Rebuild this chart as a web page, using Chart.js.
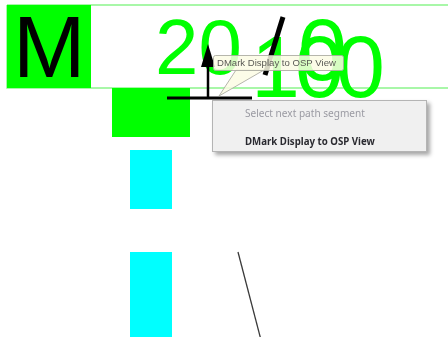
<!DOCTYPE html>
<html>
<head>
<meta charset="utf-8">
<script src="https://cdn.jsdelivr.net/npm/chart.js@4"></script>
<style>
  html, body { margin: 0; padding: 0; background: #fff; }
  #wrap { width: 448px; height: 337px; }
</style>
</head>
<body>
<div id="wrap"><canvas id="grafica"></canvas></div>
<script>
// Todo va en unidades de los ejes (x 0..448, y 0..337 hacia abajo)
const marcoX = [7, 470, 470, 7, 7];
const marcoY = [5, 5, 88, 88, 5];
const cuadroMX = [7, 91, 91, 7];
const cuadroMY = [5, 5, 88, 88];
const bloqueVerdeX = [112, 190, 190, 112];
const bloqueVerdeY = [88, 88, 137, 137];
const cian1X = [130, 172, 172, 130];
const cian1Y = [150, 150, 209, 209];
const cian2X = [130, 172, 172, 130];
const cian2Y = [252, 252, 345, 345];
const barraX = [283, 265];
const barraY = [17, 75];
const rayaX = [167, 252];
const rayaY = [98, 98];
const flechaX = [208, 208];
const flechaY = [98, 62];
const puntaX = [208, 201, 215];
const puntaY = [44, 67, 67];
const diagonalX = [238, 261];
const diagonalY = [252, 340];

// Textos grandes
const letraM = 'M';
const textosGrandes = ['20', '0', '1', '0', '0'];
const textosX = [155, 298, 251, 295, 336];
const textosY = [74, 80, 97, 97, 97];

// Globo y menu contextual
const globoTexto = 'DMark Display to OSP View';
const globoX = [213, 343];
const globoY = [55, 70];
const colaX = [219, 236, 264];
const colaY = [96, 70, 70];
const menuX = [212, 427];
const menuY = [100, 152];
const menuItems = ['Select next path segment', 'DMark Display to OSP View'];
const menuItemsY = [114, 142];

const puntos = (xs, ys) => xs.map((x, i) => ({ x: x, y: ys[i] }));

const relleno = (label, xs, ys, color, order) => ({
    label, order, data: puntos(xs, ys),
    backgroundColor: color, borderColor: color, borderWidth: 0,
    fill: 'shape', pointRadius: 0, tension: 0
});
const linea = (label, xs, ys, color, ancho, order) => ({
    label, order, data: puntos(xs, ys),
    borderColor: color, borderWidth: ancho, fill: false,
    pointRadius: 0, tension: 0
});

function ajustarFuente(ctx, texto, peso, familia, ancho) {
    ctx.font = peso + ' 10px ' + familia;
    const w = ctx.measureText(texto).width;
    ctx.font = peso + ' ' + (10 * ancho / w).toFixed(2) + 'px ' + familia;
}

const dibujos = {
    id: 'dibujos',
    afterDatasetDraw(chart, args) {
        const ctx = chart.ctx;
        const sx = chart.scales.x, sy = chart.scales.y;
        const etiqueta = chart.data.datasets[args.index].label;
        ctx.save();
        ctx.textBaseline = 'alphabetic';
        ctx.textAlign = 'left';
        if (etiqueta === 'marco') {
            ctx.fillStyle = '#00ff00';
            textosGrandes.forEach((t, i) => {
                const tam = i === 0 ? 78 : 88;
                ctx.font = tam + 'px "Liberation Sans", Arial, sans-serif';
                ctx.fillText(t, sx.getPixelForValue(textosX[i]), sy.getPixelForValue(textosY[i]));
            });
        }
        if (etiqueta === 'cuadroM') {
            ctx.fillStyle = '#000';
            ctx.font = '87px "Liberation Sans", Arial, sans-serif';
            ctx.fillText(letraM, sx.getPixelForValue(13), sy.getPixelForValue(77));
        }
        ctx.restore();
    },
    afterDatasetsDraw(chart) {
        const ctx = chart.ctx;
        const sx = chart.scales.x, sy = chart.scales.y;
        ctx.save();

        // globo amarillo con su cola
        ctx.globalAlpha = 0.85;
        ctx.fillStyle = '#fbfbe4';
        ctx.strokeStyle = '#a9a9a0';
        ctx.lineWidth = 1;
        ctx.beginPath();
        ctx.moveTo(sx.getPixelForValue(colaX[0]), sy.getPixelForValue(colaY[0]));
        ctx.lineTo(sx.getPixelForValue(colaX[1]), sy.getPixelForValue(colaY[1]));
        ctx.lineTo(sx.getPixelForValue(colaX[2]), sy.getPixelForValue(colaY[2]));
        ctx.closePath();
        ctx.fill();
        ctx.stroke();
        const gx = sx.getPixelForValue(globoX[0]), gy = sy.getPixelForValue(globoY[0]);
        const gw = sx.getPixelForValue(globoX[1]) - gx, gh = sy.getPixelForValue(globoY[1]) - gy;
        ctx.beginPath();
        ctx.roundRect(gx + 0.5, gy + 0.5, gw, gh, 2);
        ctx.fill();
        ctx.stroke();
        ctx.globalAlpha = 1;
        ctx.fillStyle = '#5a5a55';
        ctx.textBaseline = 'middle';
        ajustarFuente(ctx, globoTexto, 'normal', '"Liberation Sans", Arial, sans-serif', 119);
        ctx.fillText(globoTexto, gx + 4, gy + gh / 2 + 0.5);

        // menu contextual
        const mx = sx.getPixelForValue(menuX[0]), my = sy.getPixelForValue(menuY[0]);
        const mw = sx.getPixelForValue(menuX[1]) - mx, mh = sy.getPixelForValue(menuY[1]) - my;
        ctx.save();
        ctx.shadowColor = 'rgba(0,0,0,0.35)';
        ctx.shadowBlur = 4;
        ctx.shadowOffsetX = 3;
        ctx.shadowOffsetY = 3;
        ctx.fillStyle = '#f0f0f0';
        ctx.fillRect(mx, my, mw, mh);
        ctx.restore();
        ctx.strokeStyle = '#b4b4b4';
        ctx.strokeRect(mx + 0.5, my + 0.5, mw - 1, mh - 1);
        ajustarFuente(ctx, menuItems[0], 'normal', '"Noto Sans", sans-serif', 120);
        ctx.fillStyle = '#9a9aa2';
        ctx.fillText(menuItems[0], sx.getPixelForValue(245), sy.getPixelForValue(menuItemsY[0]));
        ajustarFuente(ctx, menuItems[1], 'bold', '"Noto Sans", sans-serif', 130);
        ctx.fillStyle = '#2a2a30';
        ctx.fillText(menuItems[1], sx.getPixelForValue(245), sy.getPixelForValue(menuItemsY[1]));
        ctx.restore();
    }
};

const $grafica = document.querySelector('#grafica');

new Chart($grafica, {
    type: 'line',
    data: {
        datasets: [
            linea('diagonal', diagonalX, diagonalY, '#3a3a3a', 1.3, 1),
            relleno('cian2', cian2X, cian2Y, '#00ffff', 2),
            relleno('cian1', cian1X, cian1Y, '#00ffff', 3),
            relleno('punta', puntaX, puntaY, '#000000', 4),
            linea('flecha', flechaX, flechaY, '#000000', 2.5, 5),
            linea('raya', rayaX, rayaY, '#000000', 3, 6),
            linea('barra', barraX, barraY, '#000000', 5, 7),
            relleno('bloqueVerde', bloqueVerdeX, bloqueVerdeY, '#00ff00', 8),
            relleno('cuadroM', cuadroMX, cuadroMY, '#00ff00', 9),
            linea('marco', marcoX, marcoY, '#8cf58c', 1.5, 10)
        ]
    },
    options: {
        responsive: true,
        maintainAspectRatio: false,
        animation: false,
        events: [],
        layout: { padding: 0 },
        scales: {
            x: { type: 'linear', min: 0, max: 448, display: false },
            y: { type: 'linear', min: 0, max: 337, reverse: true, display: false }
        },
        plugins: {
            legend: { display: false },
            tooltip: { enabled: false }
        }
    },
    plugins: [dibujos]
});
</script>
</body>
</html>
